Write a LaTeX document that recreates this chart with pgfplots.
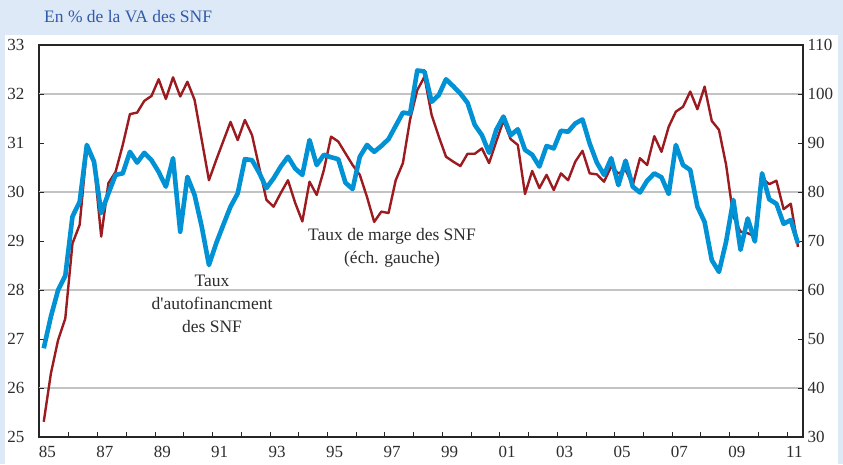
\documentclass[border=0pt]{standalone}
\usepackage{pgfplots}
\pgfplotsset{compat=1.18}
\usepackage{pgfplotstable}
\usepackage{fontspec}
\setmainfont{Liberation Serif}
\definecolor{bgblue}{RGB}{221,233,246}
\definecolor{titleblue}{RGB}{50,90,170}
\definecolor{margered}{RGB}{155,27,32}
\definecolor{autoblue}{RGB}{0,146,212}
\definecolor{txtgray}{RGB}{45,45,45}
\definecolor{gridgray}{RGB}{195,195,195}

\pgfplotstableread{
t marge autofin
1985.125 25.31 48.1
1985.375 26.30 54.6
1985.625 26.98 60.0
1985.875 27.42 62.9
1986.125 28.95 75.0
1986.375 29.33 78.0
1986.625 30.89 89.6
1986.875 30.59 86.2
1987.125 29.09 75.7
1987.375 30.18 79.7
1987.625 30.41 83.5
1987.875 30.96 83.8
1988.125 31.59 88.2
1988.375 31.62 86.0
1988.625 31.86 88.0
1988.875 31.96 86.5
1989.125 32.30 84.1
1989.375 31.90 81.1
1989.625 32.34 86.9
1989.875 31.95 71.9
1990.125 32.25 83.1
1990.375 31.88 79.4
1990.625 31.06 72.9
1990.875 30.24 65.1
1991.125 30.65 69.5
1991.375 31.04 73.3
1991.625 31.43 77.0
1991.875 31.06 79.7
1992.125 31.47 86.7
1992.375 31.16 86.5
1992.625 30.50 83.9
1992.875 29.84 80.8
1993.125 29.70 82.8
1993.375 29.98 85.2
1993.625 30.24 87.2
1993.875 29.78 84.8
1994.125 29.40 83.5
1994.375 30.21 90.6
1994.625 29.94 85.5
1994.875 30.45 87.6
1995.125 31.13 87.1
1995.375 31.03 86.7
1995.625 30.79 81.9
1995.875 30.55 80.6
1996.125 30.35 87.2
1996.375 29.90 89.6
1996.625 29.39 88.2
1996.875 29.60 89.4
1997.125 29.57 90.8
1997.375 30.24 93.5
1997.625 30.59 96.2
1997.875 31.48 96.0
1998.125 32.08 104.8
1998.375 32.35 104.6
1998.625 31.57 98.4
1998.875 31.13 99.8
1999.125 30.72 103.0
1999.375 30.62 101.6
1999.625 30.53 100.1
1999.875 30.78 98.2
2000.125 30.78 93.7
2000.375 30.89 91.6
2000.625 30.59 88.0
2000.875 31.03 92.7
2001.125 31.46 95.4
2001.375 31.08 91.6
2001.625 30.96 92.8
2001.875 29.96 88.6
2002.125 30.43 87.6
2002.375 30.08 85.2
2002.625 30.35 89.4
2002.875 30.04 88.9
2003.125 30.38 92.5
2003.375 30.24 92.3
2003.625 30.62 94.0
2003.875 30.84 94.8
2004.125 30.38 89.9
2004.375 30.36 86.0
2004.625 30.21 83.5
2004.875 30.52 86.9
2005.125 30.38 81.4
2005.375 30.45 86.4
2005.625 30.14 81.1
2005.875 30.69 79.9
2006.125 30.55 82.3
2006.375 31.14 83.8
2006.625 30.82 83.0
2006.875 31.33 79.6
2007.125 31.64 89.6
2007.375 31.74 85.5
2007.625 32.05 84.5
2007.875 31.69 77.0
2008.125 32.15 73.9
2008.375 31.45 66.1
2008.625 31.27 63.7
2008.875 30.55 69.9
2009.125 29.50 78.4
2009.375 29.19 68.2
2009.625 29.16 74.6
2009.875 29.09 69.9
2010.125 30.28 83.8
2010.375 30.16 78.5
2010.625 30.23 77.6
2010.875 29.65 73.5
2011.125 29.76 74.3
2011.375 28.88 69.5
}\data

\pgfplotsset{
  common/.style={
    at={(39pt,27pt)}, anchor=south west,
    scale only axis, width=764pt, height=392pt,
    xmin=1984.96, xmax=2011.55,
    tick align=inside,
    major tick length=5pt,
    tick style={line width=0.9pt, color=black!85},
    axis line style={line width=1.6pt, color=black!85},
    /pgf/number format/assume math mode=true,
    ticklabel style={font=\fontsize{17}{19}\selectfont, text=txtgray},
    clip=false,
  }
}

\begin{document}
\begin{tikzpicture}[x=1pt,y=1pt]
\fill[bgblue] (0,0) rectangle (843,464);
\fill[white] (5,0) rectangle (838,429);
\path[use as bounding box] (0,0) rectangle (843,464);
\node[anchor=base west, text=titleblue, font=\fontsize{17.5}{20}\selectfont, inner sep=0pt] at (44,441) {En \% de la VA des SNF};

\begin{axis}[common,
  ymin=25, ymax=33,
  ytick={25,26,...,33},
  ytick pos=left,
  xtick={1986,1987,...,2011},
  xticklabels={},
  xtick pos=lower,
  extra x ticks={1985.25,1987.25,...,2011.25},
  extra x tick labels={85,87,89,91,93,95,97,99,01,03,05,07,09,11},
  extra x tick style={major tick length=0pt, xticklabel style={yshift=-6pt}},
  extra y ticks={26,28,30,32},
  extra y tick labels={},
  extra y tick style={grid=major, major grid style={gridgray, line width=1.3pt}},
  yticklabel style={xshift=-11pt},
]
\addplot[margered, line width=2.4pt, line join=round] table[x=t, y=marge] {\data};
\end{axis}

\begin{axis}[common,
  ymin=30, ymax=110,
  ytick={30,40,...,110},
  axis y line*=right,
  hide x axis,
  yticklabel style={xshift=1pt},
]
\addplot[autoblue, line width=4.6pt, line join=round] table[x=t, y=autofin] {\data};
\end{axis}

\node[align=center, text=txtgray, font=\fontsize{17.5}{23}\selectfont] at (392,216) {Taux de marge des SNF\\(éch. gauche)};
\node[align=center, text=txtgray, font=\fontsize{17.5}{23}\selectfont] at (212,160) {Taux\\d\textquotesingle autofinancment\\des SNF};
\end{tikzpicture}
\end{document}
